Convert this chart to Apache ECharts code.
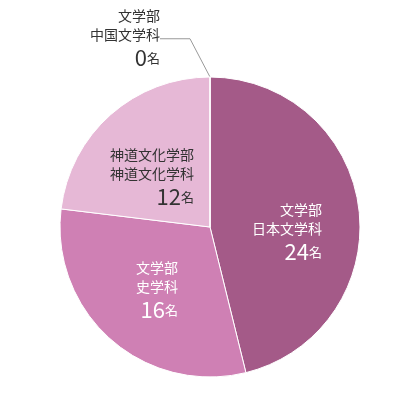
<!DOCTYPE html>
<html>
<head>
<meta charset="utf-8">
<script src="https://cdn.jsdelivr.net/npm/echarts@6/dist/echarts.min.js"></script>
<style>html,body{margin:0;background:#fff}#c{width:420px;height:420px}</style>
</head>
<body>
<div id="c"></div>
<script>
// 学科別人数
var faculties = ['文学部', '文学部', '神道文化学部', '文学部'];
var departments = ['日本文学科', '史学科', '神道文化学科', '中国文学科'];
var counts = [24, 16, 12, 0];
var colors = ['#a45a88', '#cf80b4', '#e6b8d6', '#dddddd'];
// label anchor (right edge, top) for each slice
var labelPos = [[322, 200], [178, 258], [194, 145], [160, 6]];
var labelColor = ['#fff', '#fff', '#333', '#333'];

var chart = echarts.init(document.getElementById('c'));

var data = counts.map(function (v, i) {
    return {
        name: departments[i],
        value: v,
        itemStyle: { color: colors[i] },
        label: {
            color: labelColor[i],
            rich: {
                t: { fontSize: 14, lineHeight: 19, color: labelColor[i], align: 'right' },
                n: { fontSize: 22, lineHeight: 28, color: labelColor[i], align: 'right' },
                u: { fontSize: 13, color: labelColor[i] }
            }
        },
        labelLine: { show: i === 3 }
    };
});

chart.setOption({
    series: [{
        type: 'pie',
        center: [210, 227],
        radius: [0, 150],
        startAngle: 90,
        clockwise: true,
        animation: false,
        silent: true,
        itemStyle: { borderColor: '#fff', borderWidth: 1 },
        label: {
            show: true,
            position: 'inside',
            fontFamily: 'Noto Sans CJK JP',
            align: 'right',
            formatter: function (p) {
                var i = p.dataIndex;
                return '{t|' + faculties[i] + '}\n{t|' + departments[i] + '}\n{n|' + counts[i] + '}{u|名}';
            }
        },
        labelLine: { show: true, lineStyle: { color: '#999', width: 1 } },
        labelLayout: function (p) {
            var i = p.dataIndex;
            var res = { x: labelPos[i][0], y: labelPos[i][1], align: 'right', verticalAlign: 'top' };
            if (i === 3) {
                res.labelLinePoints = [[210, 77], [210, 28], [165, 28]];
            }
            return res;
        },
        data: data
    }]
});
</script>
</body>
</html>
